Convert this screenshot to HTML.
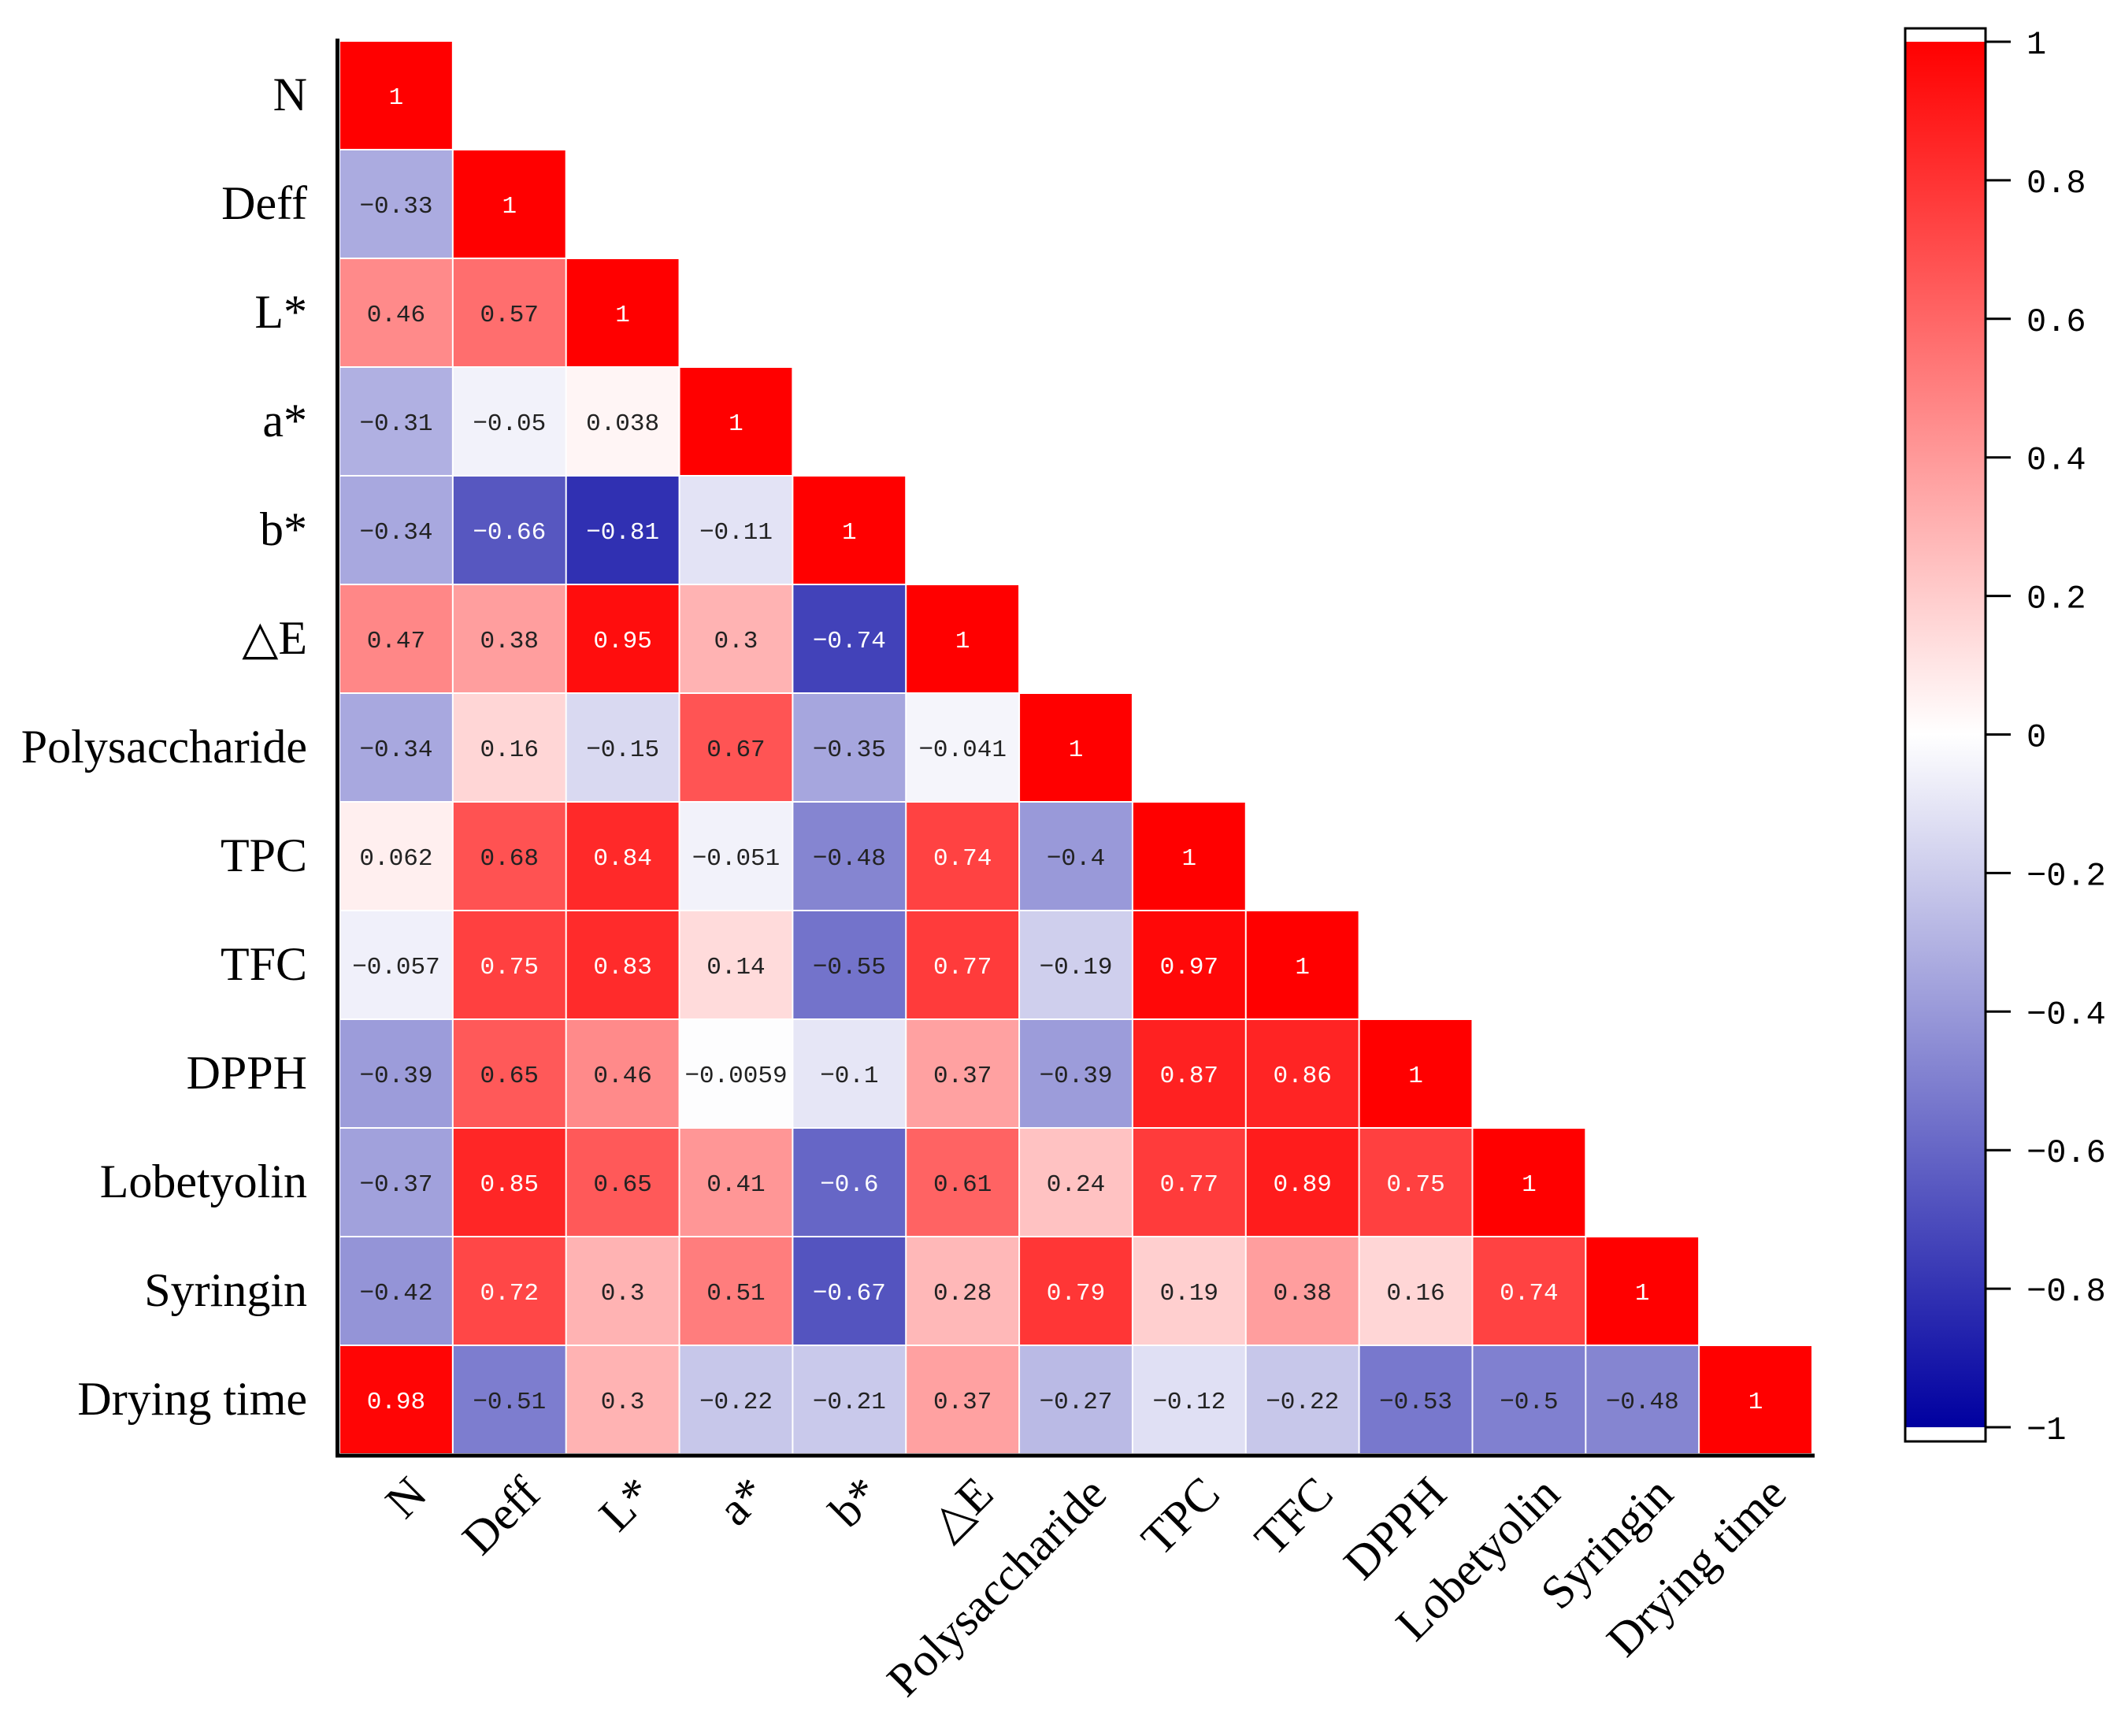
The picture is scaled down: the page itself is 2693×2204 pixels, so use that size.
<!DOCTYPE html>
<html><head><meta charset="utf-8"><style>
html,body{margin:0;padding:0;background:#fff;}
svg{display:block;}
</style></head><body>
<svg id="chart" width="2693" height="2204" xmlns="http://www.w3.org/2000/svg">
<defs>
<linearGradient id="cbgrad" x1="0" y1="0" x2="0" y2="1">
<stop offset="0" stop-color="rgb(255,0,0)"/>
<stop offset="0.5" stop-color="rgb(255,255,255)"/>
<stop offset="1" stop-color="rgb(0,0,160)"/>
</linearGradient>
</defs>
<g id="cells"></g>
<g id="ylabels"></g>
<g id="xlabels"></g>
<line x1="428.5" y1="49" x2="428.5" y2="1849" stroke="#000" stroke-width="5"/>
<line x1="426" y1="1848" x2="2304" y2="1848" stroke="#000" stroke-width="5"/>
<g id="colorbar">
<rect x="2419" y="36" width="102" height="1794" fill="#fff" stroke="#000" stroke-width="3"/>
<rect x="2420.5" y="53" width="99" height="1759" fill="url(#cbgrad)"/>
</g>
<g id="cbticks"></g>
</svg>
<script>
const labels = ["N","Deff","L*","a*","b*","△E","Polysaccharide","TPC","TFC","DPPH","Lobetyolin","Syringin","Drying time"];
const r0 = [1];
const r1 = [-0.33,1];
const r2 = [0.46,0.57,1];
const r3 = [-0.31,-0.05,0.038,1];
const r4 = [-0.34,-0.66,-0.81,-0.11,1];
const r5 = [0.47,0.38,0.95,0.3,-0.74,1];
const r6 = [-0.34,0.16,-0.15,0.67,-0.35,-0.041,1];
const r7 = [0.062,0.68,0.84,-0.051,-0.48,0.74,-0.4,1];
const r8 = [-0.057,0.75,0.83,0.14,-0.55,0.77,-0.19,0.97,1];
const r9 = [-0.39,0.65,0.46,-0.0059,-0.1,0.37,-0.39,0.87,0.86,1];
const r10 = [-0.37,0.85,0.65,0.41,-0.6,0.61,0.24,0.77,0.89,0.75,1];
const r11 = [-0.42,0.72,0.3,0.51,-0.67,0.28,0.79,0.19,0.38,0.16,0.74,1];
const r12 = [0.98,-0.51,0.3,-0.22,-0.21,0.37,-0.27,-0.12,-0.22,-0.53,-0.5,-0.48,1];
const rows = [r0,r1,r2,r3,r4,r5,r6,r7,r8,r9,r10,r11,r12];
const cbTicks = [1,0.8,0.6,0.4,0.2,0,-0.2,-0.4,-0.6,-0.8,-1];

const NS = "http://www.w3.org/2000/svg";
const gx0 = 431, gx1 = 2301, gy0 = 52, gy1 = 1846;
const n = labels.length;
const cw = (gx1-gx0)/n, ch = (gy1-gy0)/n;
function xs(i){ return gx0 + i*cw; }
function ys(j){ return gy0 + j*ch; }
const cbTop = 53, cbBot = 1812;
function cby(v){ return cbTop + (1-v)/2*(cbBot-cbTop); }
function color(v){
  if (v >= 0) { const c = Math.round(255*(1-v)); return `rgb(255,${c},${c})`; }
  const a = -v; const c = Math.round(255*(1-a)); const b = Math.round(255-95*a);
  return `rgb(${c},${c},${b})`;
}
function fmt(v){ return String(v).replace('-', '−'); }
function mk(tag, attrs, parent){
  const e = document.createElementNS(NS, tag);
  for (const k in attrs) e.setAttribute(k, attrs[k]);
  parent.appendChild(e); return e;
}
const cells = document.getElementById('cells');
rows.forEach((row, j) => {
  row.forEach((v, i) => {
    const r = mk('rect', {x: xs(i)+1, y: ys(j)+1, width: cw-2, height: ch-2, fill: color(v)}, cells);
    
    
    const white = (v >= 0.69) || (v <= -0.6);
    const t = mk('text', {x: xs(i)+cw/2, y: ys(j)+ch/2+11, 'text-anchor':'middle',
      'font-family':'"Liberation Mono", monospace', 'font-size':31, fill: white ? '#fff' : '#222'}, cells);
    t.textContent = fmt(v);
    
    
  });
});
const yl = document.getElementById('ylabels');
labels.forEach((l, j) => {
  const t = mk('text', {x: 390, y: ys(j)+ch/2+19, 'text-anchor':'end',
    'font-family':'"Liberation Serif", serif', 'font-size':60, fill:'#000'}, yl);
  t.textContent = l;
  
  
});
const xl = document.getElementById('xlabels');
labels.forEach((l, i) => {
  const ax = xs(i)+cw/2+42, ay = 1900;
  const t = mk('text', {x: ax, y: ay, 'text-anchor':'end', transform:`rotate(-45 ${ax} ${ay})`,
    'font-family':'"Liberation Serif", serif', 'font-size':60, fill:'#000'}, xl);
  t.textContent = l;
  
  
});
const cbt = document.getElementById('cbticks');
cbTicks.forEach(v => {
  const y = cby(v);
  const ln = mk('line', {x1: 2521, x2: 2553, y1: y, y2: y, stroke:'#000', 'stroke-width':3}, cbt);
  
  
  const t = mk('text', {x: 2573, y: y+15, 'font-family':'"Liberation Mono", monospace', 'font-size':42, fill:'#000'}, cbt);
  t.textContent = fmt(v);
  
  
});
</script>
</body></html>
